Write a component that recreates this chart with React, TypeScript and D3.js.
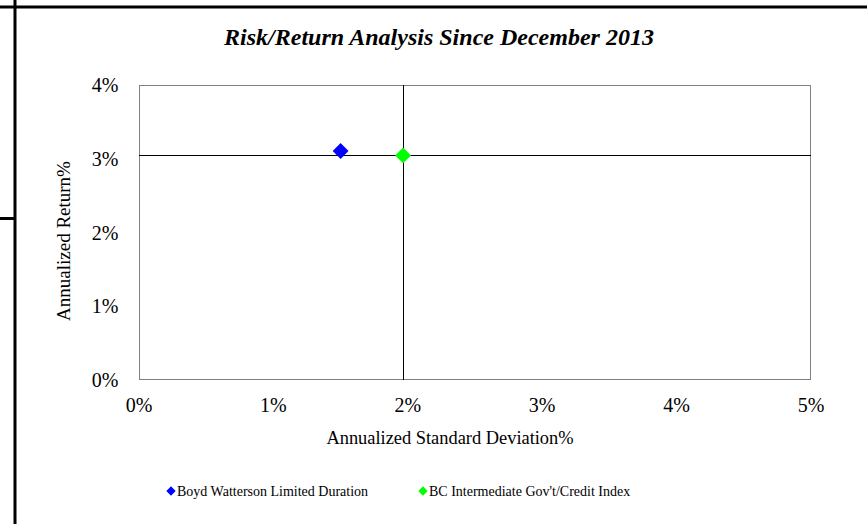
import React from "react";
import * as d3 from "d3";

const seriesNames = ["Boyd Watterson Limited Duration", "BC Intermediate Gov't/Credit Index"];
const seriesColors = ["#0000ff", "#00ff00"];
const stdDev = [1.5, 1.965];
const returns = [3.105, 3.045];
const xTicks = [0, 1, 2, 3, 4, 5];
const yTicks = [0, 1, 2, 3, 4];
const benchmarkIndex = 1;

const W = 867;
const H = 524;
const FONT = "'Liberation Serif', 'Times New Roman', serif";

export default function App() {
  const x = d3.scaleLinear().domain([0, 5]).range([139, 811]);
  const y = d3.scaleLinear().domain([0, 4]).range([380, 85]);
  const diamond = d3.symbol().type(d3.symbolDiamond2).size(160)();
  const legendDiamond = d3.symbol().type(d3.symbolDiamond2).size(55)();
  const legendX = [171, 423];
  const snap = (v: number) => Math.floor(v) + 0.5;
  const bx = snap(x(stdDev[benchmarkIndex]));
  const by = snap(y(returns[benchmarkIndex]));

  return (
    <svg width={W} height={H} style={{ position: "absolute", left: 0, top: 0, background: "#fff" }} fontFamily={FONT}>
      <rect x={0} y={0} width={W} height={H} fill="#fff" />
      {/* page lines */}
      <line x1={0} x2={W} y1={7} y2={7} stroke="#000" strokeWidth={3} />
      <line x1={15} x2={15} y1={0} y2={H} stroke="#000" strokeWidth={3} />
      <line x1={0} x2={15} y1={218.5} y2={218.5} stroke="#000" strokeWidth={3} />

      <text x={439} y={45} textAnchor="middle" fontSize={24} fontWeight="bold" fontStyle="italic">
        Risk/Return Analysis Since December 2013
      </text>

      {/* plot frame */}
      <rect x={139.5} y={85.5} width={671} height={294} fill="none" stroke="#808080" strokeWidth={1} />

      {/* crosshair through benchmark */}
      <line x1={bx} x2={bx} y1={85} y2={380} stroke="#000" strokeWidth={1} />
      <line x1={139} x2={811} y1={by} y2={by} stroke="#000" strokeWidth={1} />

      {yTicks.map((t) => (
        <text key={"y" + t} x={105} y={y(t) + 7} textAnchor="middle" fontSize={20}>
          {t + "%"}
        </text>
      ))}
      {xTicks.map((t) => (
        <text key={"x" + t} x={x(t)} y={412} textAnchor="middle" fontSize={20}>
          {t + "%"}
        </text>
      ))}

      <text x={450} y={444} textAnchor="middle" fontSize={18.4}>
        Annualized Standard Deviation%
      </text>
      <text transform={`translate(70,241) rotate(-90)`} textAnchor="middle" fontSize={19}>
        Annualized Return%
      </text>

      {stdDev.map((s, i) => (
        <path key={i} d={diamond} transform={`translate(${x(s)},${y(returns[i])})`} fill={seriesColors[i]} />
      ))}

      {seriesNames.map((n, i) => (
        <g key={n}>
          <path d={legendDiamond} transform={`translate(${legendX[i]},${491})`} fill={seriesColors[i]} />
          <text x={legendX[i] + 6} y={496} fontSize={14}>
            {n}
          </text>
        </g>
      ))}
    </svg>
  );
}
